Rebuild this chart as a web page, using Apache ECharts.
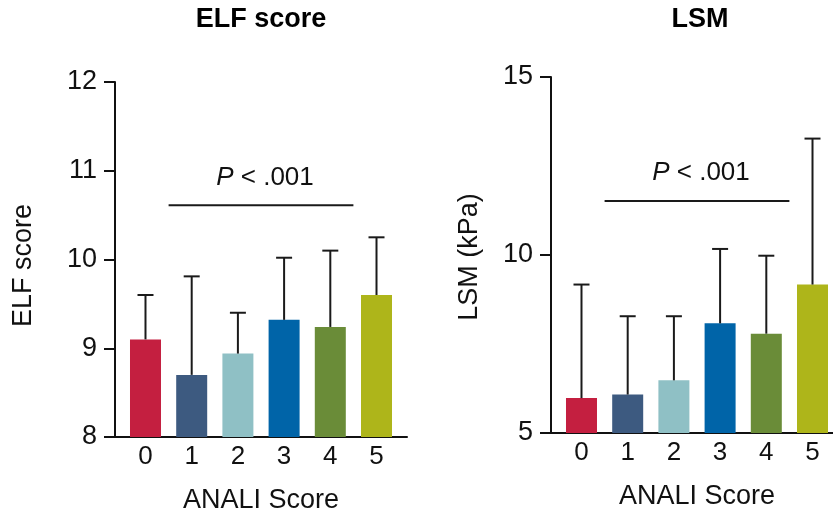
<!DOCTYPE html>
<html>
<head>
<meta charset="utf-8">
<script src="https://cdn.jsdelivr.net/npm/echarts@6/dist/echarts.min.js"></script>
<style>
  html, body { margin: 0; padding: 0; background: #fff; }
  #chart { width: 833px; height: 509px; }
</style>
</head>
<body>
<div id="chart"></div>
<script>
// ANALI score groups (x positions 0..5)
const categories = [0, 1, 2, 3, 4, 5];
const barColors = ['#c41f40', '#3d5a80', '#8fc0c5', '#0064a8', '#6a8c38', '#aeb51a'];

// ELF score: mean and upper error
const elfMean = [9.1, 8.7, 8.94, 9.32, 9.24, 9.6];
const elfUpper = [9.6, 9.81, 9.4, 10.02, 10.1, 10.25];
const elfTicks = [8, 9, 10, 11, 12];
const elfSig = [0.5, 4.5, 10.61];

// LSM (kPa): mean and upper error
const lsmMean = [5.98, 6.08, 6.48, 8.08, 7.79, 9.17];
const lsmUpper = [9.17, 8.28, 8.28, 10.17, 9.98, 13.27];
const lsmTicks = [5, 10, 15];
const lsmSig = [0.5, 4.5, 11.52];

const pText = '{i|P} < .001';
const font = 'Liberation Sans, Arial, sans-serif';

const chart = echarts.init(document.getElementById('chart'));

function barData(means) {
  return categories.map((c, i) => ({
    value: [c, means[i]],
    itemStyle: { color: barColors[i] }
  }));
}

function errorData(means, uppers) {
  return categories.map((c, i) => [c, means[i], uppers[i]]);
}

function renderError(params, api) {
  const low = api.coord([api.value(0), api.value(1)]);
  const high = api.coord([api.value(0), api.value(2)]);
  const cap = 8;
  const style = { stroke: '#1a1a1a', lineWidth: 2 };
  return {
    type: 'group',
    children: [
      { type: 'line', shape: { x1: low[0], y1: low[1], x2: high[0], y2: high[1] }, style },
      { type: 'line', shape: { x1: high[0] - cap, y1: high[1], x2: high[0] + cap, y2: high[1] }, style }
    ]
  };
}

function renderSig(params, api) {
  const a = api.coord([api.value(0), api.value(2)]);
  const b = api.coord([api.value(1), api.value(2)]);
  return {
    type: 'group',
    children: [
      { type: 'line', shape: { x1: a[0], y1: a[1], x2: b[0], y2: b[1] }, style: { stroke: '#1a1a1a', lineWidth: 2 } },
      {
        type: 'text',
        x: (a[0] + b[0]) / 2 + 4,
        y: a[1] - 28,
        style: {
          text: pText,
          fill: '#111',
          font: '26px ' + font,
          align: 'center',
          verticalAlign: 'middle',
          rich: { i: { fontStyle: 'italic', fontSize: 26, fontFamily: font, fill: '#111' } }
        }
      }
    ]
  };
}

function xAxis(gridIndex) {
  return {
    type: 'value',
    gridIndex,
    min: -0.66,
    max: 5.66,
    name: 'ANALI Score',
    nameLocation: 'middle',
    nameGap: 50,
    nameTextStyle: { fontSize: 27, color: '#111', fontFamily: font },
    axisLine: { onZero: false, lineStyle: { color: '#111', width: 2 } },
    axisTick: { show: false },
    splitLine: { show: false },
    axisLabel: {
      customValues: categories,
      fontSize: 26,
      color: '#111',
      fontFamily: font,
      margin: 7
    }
  };
}

function yAxis(gridIndex, ticks, interval, name, nameGap, margin, shift) {
  return {
    type: 'value',
    gridIndex,
    min: ticks[0],
    max: ticks[ticks.length - 1],
    interval,
    name,
    nameLocation: 'middle',
    nameGap,
    nameTextStyle: { fontSize: 27, color: '#111', fontFamily: font, padding: [0, shift, 0, 0] },
    axisLine: { show: true, onZero: false, lineStyle: { color: '#111', width: 2 } },
    axisTick: { show: true, length: 11, lineStyle: { color: '#111', width: 2 } },
    splitLine: { show: false },
    axisLabel: { fontSize: 27, color: '#111', fontFamily: font, margin }
  };
}

chart.setOption({
  animation: false,
  backgroundColor: '#fff',
  graphic: [
    { type: 'text', x: 261, y: 6, style: { text: 'ELF score', font: 'bold 27px ' + font, fill: '#000', align: 'center' } },
    { type: 'text', x: 700, y: 6, style: { text: 'LSM', font: 'bold 27px ' + font, fill: '#000', align: 'center' } }
  ],
  grid: [
    { left: 115, top: 82, width: 292, height: 355, containLabel: false, outerBoundsMode: 'none' },
    { left: 551, top: 77, width: 292, height: 356, containLabel: false, outerBoundsMode: 'none' }
  ],
  xAxis: [xAxis(0), xAxis(1)],
  yAxis: [
    yAxis(0, elfTicks, 1, 'ELF score', 78, 18, 12),
    yAxis(1, lsmTicks, 5, 'LSM (kPa)', 68, 18, 4)
  ],
  series: [
    { type: 'bar', xAxisIndex: 0, yAxisIndex: 0, barWidth: 31, data: barData(elfMean) },
    { type: 'custom', xAxisIndex: 0, yAxisIndex: 0, renderItem: renderError, data: errorData(elfMean, elfUpper), z: 3 },
    { type: 'custom', xAxisIndex: 0, yAxisIndex: 0, renderItem: renderSig, data: [elfSig], z: 3 },
    { type: 'bar', xAxisIndex: 1, yAxisIndex: 1, barWidth: 31, data: barData(lsmMean) },
    { type: 'custom', xAxisIndex: 1, yAxisIndex: 1, renderItem: renderError, data: errorData(lsmMean, lsmUpper), z: 3 },
    { type: 'custom', xAxisIndex: 1, yAxisIndex: 1, renderItem: renderSig, data: [lsmSig], z: 3 }
  ]
});
</script>
</body>
</html>
